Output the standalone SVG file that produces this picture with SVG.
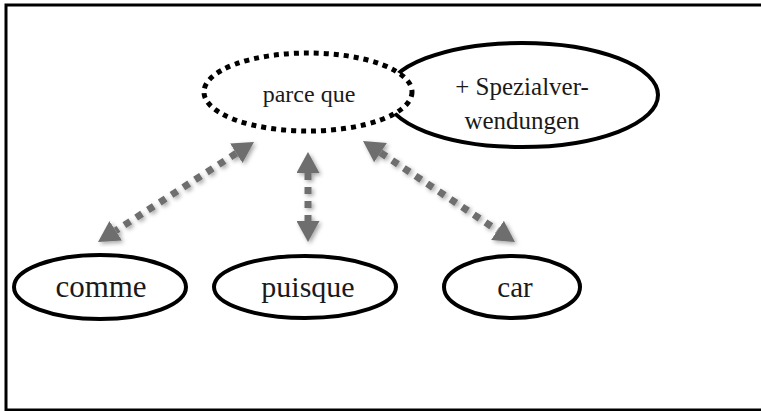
<svg xmlns="http://www.w3.org/2000/svg" width="761" height="411" viewBox="0 0 761 411">
  <style>
    .node { fill: #fff; stroke: #000; stroke-width: 4; }
    .dotted { fill: #fff; stroke: #000; stroke-width: 5; stroke-dasharray: 5 5; }
    .label { font-family: "Liberation Serif", "Times New Roman", serif; fill: #1a1a1a; text-anchor: middle; }
    .conn { stroke: #6e6e6e; stroke-width: 7; stroke-dasharray: 7 7; fill: none; marker-start: url(#head); marker-end: url(#head); }
  </style>
  <defs>
    <marker id="head" viewBox="0 0 21 23" refX="0" refY="11.5" markerUnits="userSpaceOnUse" markerWidth="21" markerHeight="23" orient="auto-start-reverse">
      <path d="M0,0 L21,11.5 L0,23 z" fill="#6e6e6e"/>
    </marker>
    <filter id="shadow" x="-20%" y="-20%" width="140%" height="140%">
      <feDropShadow dx="2" dy="2" stdDeviation="2" flood-color="#000" flood-opacity="0.35"/>
    </filter>
  </defs>
  <rect x="6" y="5" width="760" height="405" fill="#fff" stroke="#000" stroke-width="3"/>

  <g id="spezial">
    <ellipse class="node" cx="522" cy="95" rx="136" ry="52"/>
    <text class="label" x="522" y="95" font-size="25">+ Spezialver-</text>
    <text class="label" x="522" y="129" font-size="25">wendungen</text>
  </g>
  <g id="parceque">
    <ellipse class="dotted" cx="308" cy="92" rx="104" ry="39"/>
    <text class="label" x="309" y="102" font-size="24">parce que</text>
  </g>
  <g id="comme">
    <ellipse class="node" cx="100" cy="287" rx="86" ry="32"/>
    <text class="label" x="101" y="297" font-size="31">comme</text>
  </g>
  <g id="puisque">
    <ellipse class="node" cx="305" cy="287" rx="91" ry="31"/>
    <text class="label" x="308" y="297" font-size="30">puisque</text>
  </g>
  <g id="car">
    <ellipse class="node" cx="512" cy="287" rx="68" ry="31"/>
    <text class="label" x="515" y="297" font-size="29">car</text>
  </g>

  <g id="connectors" filter="url(#shadow)">
    <line class="conn" x1="236.3" y1="153.3" x2="115.7" y2="230.7"/>
    <line class="conn" x1="308" y1="173" x2="308" y2="221"/>
    <line class="conn" x1="380.5" y1="152.6" x2="497.5" y2="230.4"/>
  </g>
</svg>
